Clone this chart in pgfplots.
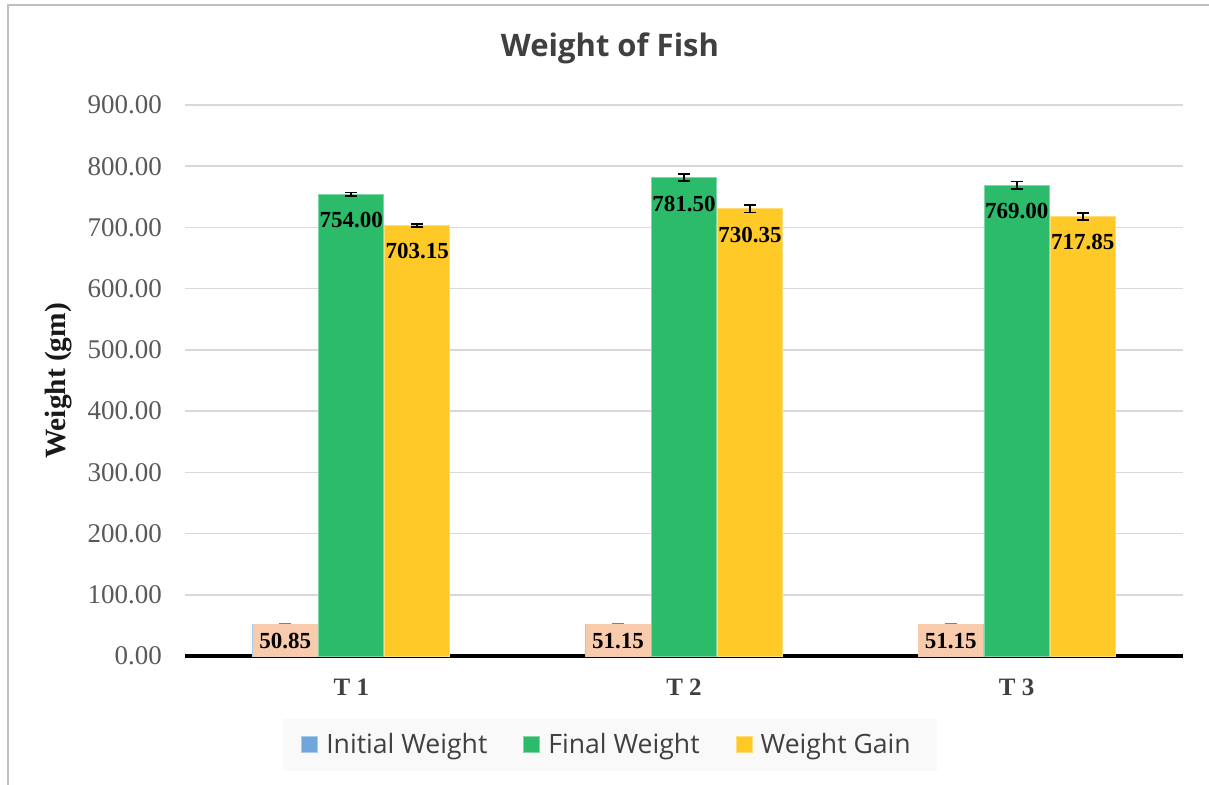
\documentclass[border=0pt]{standalone}
\usepackage{fontspec}
\setmainfont{Liberation Serif}
\newfontfamily\osans{Open Sans}
\usepackage{pgfplots}
\pgfplotsset{compat=1.18}
\definecolor{initblue}{HTML}{6FA7DC}
\definecolor{initedge}{HTML}{A9CBEB}
\definecolor{fgreen}{HTML}{2BBB6B}
\definecolor{fgreenedge}{HTML}{7FD6A6}
\definecolor{gyellow}{HTML}{FFC928}
\definecolor{gyellowedge}{HTML}{FFDD7A}
\definecolor{peach}{HTML}{F8CBAD}
\definecolor{gridgray}{HTML}{D9D9D9}
\definecolor{tickgray}{HTML}{595959}
\definecolor{textgray}{HTML}{404040}
\definecolor{framegray}{HTML}{BFBFBF}
\definecolor{legbg}{HTML}{F9F9F9}
\begin{document}
\begin{tikzpicture}
\path[use as bounding box] (0,0) rectangle (604.5pt,392pt);
\draw[framegray, line width=1pt] (3.75pt,-2pt) -- (3.75pt,389.4pt) -- (606pt,389.4pt);
\node[font=\osans\bfseries\fontsize{15.5}{18}\selectfont, text=textgray] at (305pt,368pt) {Weight of Fish};
\node[font=\bfseries\fontsize{14.7}{17}\selectfont, text=black!90, rotate=90] at (29.5pt,201.5pt) {Weight (gm)};
\begin{axis}[
  at={(92.5pt,64pt)}, anchor=south west,
  scale only axis, width=499pt, height=275.5pt,
  ybar=0.5pt, bar width=32.5pt,
  xmin=-0.5, xmax=2.5, ymin=0, ymax=900,
  ytick={0,100,...,900},
  xtick={0,1,2}, xticklabels={T 1,T 2,T 3},
  major tick length=0pt,
  axis x line*=bottom, axis y line*=left,
  y axis line style={draw=none},
  x axis line style={black, line width=2pt, -},
  ymajorgrids, grid style={draw=gridgray, line width=0.8pt},
  /pgf/number format/assume math mode=true,
  y tick label style={font=\fontsize{13.5}{15}\selectfont, text=tickgray, xshift=-8pt,
     /pgf/number format/fixed, /pgf/number format/fixed zerofill, /pgf/number format/precision=2},
  x tick label style={font=\bfseries\fontsize{12.5}{15}\selectfont, text=textgray, yshift=-8pt},
  error bars/y dir=both, error bars/y explicit,
  error bars/error bar style={line width=0.9pt, black},
  error bars/error mark options={rotate=90, mark size=3pt, line width=0.9pt, black},
  legend style={at={(0.4259,-0.1615)}, anchor=center, fill=legbg, draw=none,
     inner xsep=9pt, inner ysep=5pt,
     font=\osans\fontsize{13.3}{15}\selectfont, text=textgray,
     nodes={inner xsep=4pt},
     /tikz/every even column/.append style={column sep=14pt}},
  legend columns=3,
  legend image code/.code={\fill[#1] (0pt,-4pt) rectangle (8pt,4pt);},
]
\addplot[fill=initblue, draw=initedge, line width=0.5pt,
  nodes near coords={\pgfmathprintnumber[fixed,fixed zerofill,precision=2]{\pgfplotspointmeta}},
  every node near coord/.append style={anchor=north, yshift=0.5pt, fill=peach, text=black,
     font=\bfseries\fontsize{11.5}{13}\selectfont, minimum width=32.5pt, minimum height=16.5pt, inner sep=1pt},
  error bars/error bar style={line width=0.8pt, gray},
  error bars/error mark options={rotate=90, mark size=3pt, line width=0.8pt, gray}]
  coordinates {(0,50.85) +- (0,1) (1,51.15) +- (0,1) (2,51.15) +- (0,1)};
\addlegendentry{Initial Weight}
\addplot[fill=fgreen, draw=fgreenedge, line width=0.5pt,
  nodes near coords={\pgfmathprintnumber[fixed,fixed zerofill,precision=2]{\pgfplotspointmeta}},
  every node near coord/.append style={anchor=north, yshift=-5.5pt, text=black,
     font=\bfseries\fontsize{11.5}{13}\selectfont}]
  coordinates {(0,754.00) +- (0,3) (1,781.50) +- (0,6) (2,769.00) +- (0,6)};
\addlegendentry{Final Weight}
\addplot[fill=gyellow, draw=gyellowedge, line width=0.5pt,
  nodes near coords={\pgfmathprintnumber[fixed,fixed zerofill,precision=2]{\pgfplotspointmeta}},
  every node near coord/.append style={anchor=north, yshift=-5.5pt, text=black,
     font=\bfseries\fontsize{11.5}{13}\selectfont}]
  coordinates {(0,703.15) +- (0,2) (1,730.35) +- (0,6) (2,717.85) +- (0,6)};
\addlegendentry{Weight Gain}
\end{axis}
\end{tikzpicture}
\end{document}
